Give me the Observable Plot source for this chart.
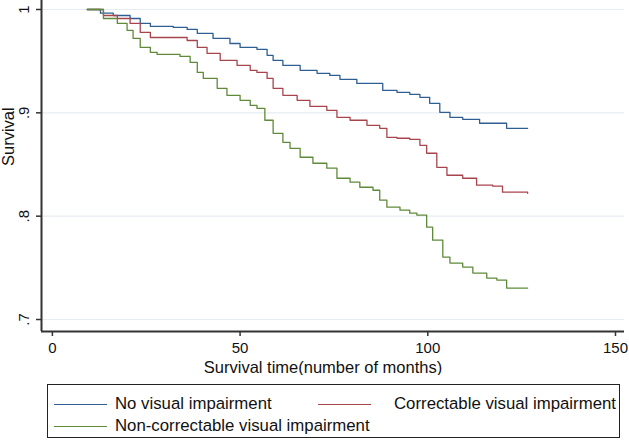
<!DOCTYPE html>
<html>
<head>
<meta charset="utf-8">
<script src="https://cdn.jsdelivr.net/npm/d3@7"></script>
<script src="https://cdn.jsdelivr.net/npm/@observablehq/plot@0.6"></script>
<style>
  html, body { margin: 0; padding: 0; background: #fff; }
  body { width: 629px; height: 440px; position: relative; font-family: "Liberation Sans", Arial, sans-serif; }
  #legend { position: absolute; left: 47px; top: 384px; width: 573px; height: 54px; border: 1.5px solid #222; box-sizing: border-box; font-size: 16.8px; color: #111; }
  .item { position: absolute; display: flex; align-items: center; line-height: 20px; }
  .swatch { width: 53px; height: 0; border-top: 1.5px solid; margin-right: 8px; }
</style>
</head>
<body>
<div id="chart"></div>
<div id="legend"></div>
<script>
const seriesNames = ["No visual impairment", "Correctable visual impairment", "Non-correctable visual impairment"];
const seriesColors = ["#2f5f92", "#a8454c", "#5f8a3a"];

const noVisualT = [9.3, 12.8, 16.2, 20.7, 23.4, 26.1, 32.2, 35.9, 38.6, 42.8, 47.3, 50.0, 54.5, 57.2, 58.8, 61.4, 66.0, 70.5, 73.9, 76.6, 81.1, 88.0, 91.8, 95.2, 97.9, 100.5, 103.2, 105.9, 109.3, 113.8, 121.0, 126.6];
const noVisualS = [1.000, 0.9964, 0.9942, 0.9913, 0.9865, 0.9836, 0.9826, 0.9807, 0.9768, 0.9720, 0.9671, 0.9633, 0.9614, 0.9556, 0.9507, 0.9459, 0.9411, 0.9382, 0.9362, 0.9324, 0.9285, 0.9217, 0.9198, 0.9179, 0.9150, 0.9092, 0.9005, 0.8957, 0.8937, 0.8899, 0.8850, 0.8850];

const correctableT = [9.3, 13.6, 17.3, 20.7, 23.4, 26.1, 35.9, 38.6, 41.2, 44.7, 49.2, 52.7, 54.5, 57.2, 58.8, 61.4, 65.2, 68.6, 73.1, 75.8, 79.3, 83.8, 87.2, 89.1, 91.8, 95.2, 97.9, 99.7, 102.4, 105.1, 109.3, 113.0, 117.3, 119.9, 126.6];
const correctableS = [1.000, 0.9942, 0.9913, 0.9865, 0.9778, 0.9729, 0.9700, 0.9633, 0.9575, 0.9507, 0.9459, 0.9411, 0.9391, 0.9333, 0.9237, 0.9169, 0.9121, 0.9063, 0.9024, 0.8957, 0.8928, 0.8879, 0.8850, 0.8763, 0.8754, 0.8744, 0.8686, 0.8609, 0.8473, 0.8396, 0.8367, 0.8300, 0.8290, 0.8232, 0.8222];

const nonCorrectableT = [9.3, 13.6, 17.3, 19.9, 21.5, 23.4, 26.1, 27.9, 34.0, 36.7, 38.6, 40.2, 43.9, 46.5, 50.0, 52.7, 54.5, 56.6, 58.8, 61.4, 63.3, 66.0, 69.4, 73.1, 75.8, 79.3, 81.9, 85.4, 87.2, 89.1, 92.6, 95.2, 97.1, 99.7, 101.3, 104.0, 105.9, 109.3, 112.0, 115.7, 118.4, 121.0, 126.6];
const nonCorrectableS = [1.000, 0.9913, 0.9865, 0.9797, 0.9720, 0.9633, 0.9585, 0.9565, 0.9546, 0.9488, 0.9391, 0.9333, 0.9237, 0.9169, 0.9121, 0.9072, 0.9043, 0.8928, 0.8802, 0.8715, 0.8657, 0.8570, 0.8512, 0.8464, 0.8367, 0.8329, 0.8280, 0.8251, 0.8155, 0.8087, 0.8058, 0.8029, 0.8010, 0.7894, 0.7768, 0.7604, 0.7546, 0.7507, 0.7449, 0.7401, 0.7382, 0.7304, 0.7304];

const xTicks = [0, 50, 100, 150];
const xTickLabels = ["0", "50", "100", "150"];
const yTicks = [0.7, 0.8, 0.9, 1];
const yTickLabels = [".7", ".8", ".9", "1"];
const xTitle = "Survival time(number of months)";
const yTitle = "Survival";

const xDomain = [-2.9, 152.4];
const yDomain = [0.6884, 1.0087];

const toRows = (name, ts, ss) => ts.map((t, i) => ({series: name, t, s: ss[i]}));
const data = [
  ...toRows(seriesNames[0], noVisualT, noVisualS),
  ...toRows(seriesNames[1], correctableT, correctableS),
  ...toRows(seriesNames[2], nonCorrectableT, nonCorrectableS)
];

const chart = Plot.plot({
  width: 629,
  height: 375,
  marginLeft: 41,
  marginRight: 5,
  marginTop: 0,
  marginBottom: 44,
  style: {fontFamily: "'Liberation Sans', Arial, sans-serif", background: "white", color: "#111"},
  x: {domain: xDomain},
  y: {domain: yDomain},
  color: {domain: seriesNames, range: seriesColors},
  marks: [
    Plot.gridY(yTicks, {stroke: "#e4edf1", strokeOpacity: 1, strokeWidth: 1.2}),
    Plot.line(data, {x: "t", y: "s", z: "series", stroke: "series", curve: "step-after", strokeWidth: 1.3}),
    Plot.axisY(yTicks, {
      tickFormat: (d) => yTickLabels[yTicks.indexOf(d)],
      tickRotate: -90, tickSize: 5, tickPadding: 8, fontSize: 15,
      stroke: "#333", strokeWidth: 1.5,
      label: null
    }),
    Plot.text([yTitle], {frameAnchor: "left", dx: -33, rotate: -90, lineAnchor: "middle", fontSize: 16.5, fill: "#111"}),
    Plot.axisX(xTicks, {
      tickFormat: (d) => xTickLabels[xTicks.indexOf(d)],
      tickSize: 5, tickPadding: 6, fontSize: 15,
      stroke: "#333", strokeWidth: 1.5,
      label: null
    }),
    Plot.text([xTitle], {frameAnchor: "bottom", dx: -10, dy: 41, lineAnchor: "bottom", fontSize: 16.5, fill: "#111"}),
    Plot.ruleX([xDomain[0]], {stroke: "#333", strokeWidth: 2}),
    Plot.ruleY([yDomain[0]], {stroke: "#333", strokeWidth: 2})
  ]
});
document.getElementById("chart").appendChild(chart);

const legend = document.getElementById("legend");
const positions = [[6, 9], [270, 9], [6, 31]];
seriesNames.forEach((name, i) => {
  const item = document.createElement("div");
  item.className = "item";
  item.style.left = positions[i][0] + "px";
  item.style.top = positions[i][1] + "px";
  const sw = document.createElement("div");
  sw.className = "swatch";
  sw.style.borderColor = seriesColors[i];
  if (i === 1) sw.style.marginRight = "23px";
  const label = document.createElement("span");
  label.textContent = name;
  item.appendChild(sw);
  item.appendChild(label);
  legend.appendChild(item);
});
</script>
</body>
</html>
